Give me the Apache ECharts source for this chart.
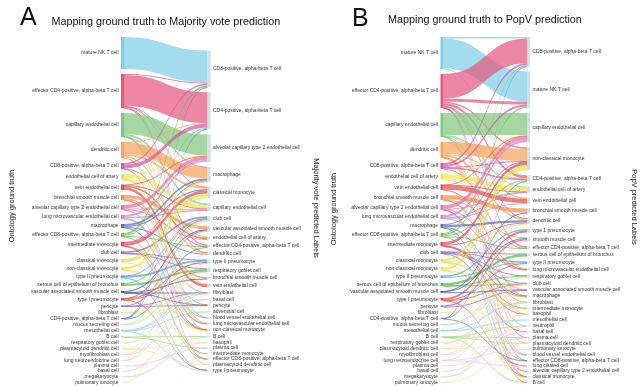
<!DOCTYPE html>
<html><head><meta charset="utf-8">
<script src="https://cdn.jsdelivr.net/npm/echarts@6/dist/echarts.min.js"></script>
<style>html,body{margin:0;padding:0;background:#fff}#c{width:640px;height:386px}</style>
</head><body><div id="c"></div>
<script>
// ---------------- data ----------------
const groundTruthLabels = [
 'mature NK T cell','effector CD4-positive, alpha-beta T cell','capillary endothelial cell','dendritic cell',
 'CD8-positive, alpha-beta T cell','endothelial cell of artery','vein endothelial cell','bronchial smooth muscle cell',
 'alveolar capillary type 2 endothelial cell','lung microvascular endothelial cell','macrophage',
 'effector CD8-positive, alpha-beta T cell','intermediate monocyte','club cell','classical monocyte',
 'non-classical monocyte','type II pneumocyte','serous cell of epithelium of bronchus',
 'vascular associated smooth muscle cell','type I pneumocyte','pericyte','fibroblast',
 'CD4-positive, alpha-beta T cell','mucus secreting cell','mesothelial cell','B cell','respiratory goblet cell',
 'plasmacytoid dendritic cell','myofibroblast cell','lung neuroendocrine cell','plasma cell','basal cell',
 'megakaryocyte','pulmonary ionocyte'
];
const majorityVoteLabels = [
 'CD8-positive, alpha-beta T cell','CD4-positive, alpha-beta T cell','alveolar capillary type 2 endothelial cell',
 'macrophage','classical monocyte','capillary endothelial cell','club cell','vascular associated smooth muscle cell',
 'endothelial cell of artery','effector CD4-positive, alpha-beta T cell','dendritic cell','type II pneumocyte',
 'respiratory goblet cell','bronchial smooth muscle cell','vein endothelial cell','fibroblast','basal cell','pericyte',
 'adventitial cell','blood vessel endothelial cell','lung microvascular endothelial cell','non-classical monocyte',
 'B cell','basophil','plasma cell','intermediate monocyte','effector CD8-positive, alpha-beta T cell',
 'plasmacytoid dendritic cell','type I pneumocyte'
];
const popvLabels = [
 'CD8-positive, alpha-beta T cell','mature NK T cell','capillary endothelial cell','non-classical monocyte',
 'CD4-positive, alpha-beta T cell','endothelial cell of artery','vein endothelial cell','bronchial smooth muscle cell',
 'dendritic cell','type 1 pneumocyte','smooth muscle cell','effector CD4-positive, alpha-beta T cell',
 'serous cell of epithelium of bronchus','type II pneumocyte','lung microvascular endothelial cell',
 'respiratory goblet cell','club cell','vascular associated smooth muscle cell','macrophage','fibroblast',
 'intermediate monocyte','basophil','mesothelial cell','neutrophil','basal cell','plasma cell',
 'plasmacytoid dendritic cell','pulmonary ionocyte','blood vessel endothelial cell',
 'effector CD8-positive, alpha-beta T cell','lung ciliated cell','alveolar capillary type 2 endothelial cell',
 'classical monocyte','B cell'
];
// [ground truth, predicted, amount]
const majorityVoteFlows = [
 ['mature NK T cell','CD8-positive, alpha-beta T cell',32],
 ['effector CD4-positive, alpha-beta T cell','CD4-positive, alpha-beta T cell',31.1],
 ['effector CD4-positive, alpha-beta T cell','CD8-positive, alpha-beta T cell',1],
 ['effector CD4-positive, alpha-beta T cell','effector CD4-positive, alpha-beta T cell',1.3],
 ['effector CD4-positive, alpha-beta T cell','dendritic cell',0.2],
 ['effector CD4-positive, alpha-beta T cell','classical monocyte',0.2],
 ['effector CD4-positive, alpha-beta T cell','macrophage',0.2],
 ['capillary endothelial cell','alveolar capillary type 2 endothelial cell',21],
 ['capillary endothelial cell','capillary endothelial cell',2],
 ['capillary endothelial cell','lung microvascular endothelial cell',0.3],
 ['capillary endothelial cell','blood vessel endothelial cell',0.3],
 ['capillary endothelial cell','endothelial cell of artery',0.2],
 ['capillary endothelial cell','vein endothelial cell',0.2],
 ['dendritic cell','macrophage',11.5],
 ['dendritic cell','classical monocyte',2],
 ['dendritic cell','dendritic cell',1.5],
 ['dendritic cell','non-classical monocyte',0.3],
 ['dendritic cell','CD4-positive, alpha-beta T cell',0.5],
 ['dendritic cell','plasmacytoid dendritic cell',0.2],
 ['CD8-positive, alpha-beta T cell','CD4-positive, alpha-beta T cell',4],
 ['CD8-positive, alpha-beta T cell','CD8-positive, alpha-beta T cell',1.5],
 ['CD8-positive, alpha-beta T cell','effector CD8-positive, alpha-beta T cell',0.2],
 ['CD8-positive, alpha-beta T cell','effector CD4-positive, alpha-beta T cell',0.3],
 ['endothelial cell of artery','capillary endothelial cell',3.2],
 ['endothelial cell of artery','endothelial cell of artery',1],
 ['endothelial cell of artery','vein endothelial cell',0.5],
 ['endothelial cell of artery','alveolar capillary type 2 endothelial cell',0.5],
 ['endothelial cell of artery','lung microvascular endothelial cell',0.2],
 ['endothelial cell of artery','blood vessel endothelial cell',0.1],
 ['vein endothelial cell','vein endothelial cell',2.7],
 ['vein endothelial cell','endothelial cell of artery',1.5],
 ['vein endothelial cell','capillary endothelial cell',0.8],
 ['vein endothelial cell','alveolar capillary type 2 endothelial cell',0.5],
 ['bronchial smooth muscle cell','vascular associated smooth muscle cell',3.2],
 ['bronchial smooth muscle cell','bronchial smooth muscle cell',1.5],
 ['bronchial smooth muscle cell','fibroblast',0.2],
 ['bronchial smooth muscle cell','pericyte',0.1],
 ['alveolar capillary type 2 endothelial cell','alveolar capillary type 2 endothelial cell',3.5],
 ['alveolar capillary type 2 endothelial cell','capillary endothelial cell',0.8],
 ['alveolar capillary type 2 endothelial cell','lung microvascular endothelial cell',0.3],
 ['alveolar capillary type 2 endothelial cell','endothelial cell of artery',0.4],
 ['lung microvascular endothelial cell','alveolar capillary type 2 endothelial cell',2],
 ['lung microvascular endothelial cell','capillary endothelial cell',1.2],
 ['lung microvascular endothelial cell','lung microvascular endothelial cell',0.5],
 ['lung microvascular endothelial cell','blood vessel endothelial cell',0.3],
 ['macrophage','macrophage',2],
 ['macrophage','classical monocyte',1.2],
 ['macrophage','dendritic cell',0.5],
 ['macrophage','non-classical monocyte',0.3],
 ['effector CD8-positive, alpha-beta T cell','CD8-positive, alpha-beta T cell',2],
 ['effector CD8-positive, alpha-beta T cell','CD4-positive, alpha-beta T cell',1],
 ['effector CD8-positive, alpha-beta T cell','effector CD4-positive, alpha-beta T cell',0.8],
 ['effector CD8-positive, alpha-beta T cell','effector CD8-positive, alpha-beta T cell',0.2],
 ['intermediate monocyte','classical monocyte',3.3],
 ['intermediate monocyte','non-classical monocyte',0.5],
 ['intermediate monocyte','macrophage',0.5],
 ['intermediate monocyte','intermediate monocyte',0.2],
 ['club cell','club cell',1.7],
 ['club cell','respiratory goblet cell',0.6],
 ['club cell','type II pneumocyte',0.2],
 ['classical monocyte','classical monocyte',2.8],
 ['classical monocyte','macrophage',0.5],
 ['classical monocyte','non-classical monocyte',0.2],
 ['non-classical monocyte','classical monocyte',2],
 ['non-classical monocyte','non-classical monocyte',0.6],
 ['non-classical monocyte','intermediate monocyte',0.2],
 ['non-classical monocyte','macrophage',0.2],
 ['type II pneumocyte','type II pneumocyte',2],
 ['type II pneumocyte','club cell',0.3],
 ['type II pneumocyte','type I pneumocyte',0.2],
 ['serous cell of epithelium of bronchus','respiratory goblet cell',2],
 ['serous cell of epithelium of bronchus','club cell',1],
 ['vascular associated smooth muscle cell','vascular associated smooth muscle cell',1.3],
 ['vascular associated smooth muscle cell','pericyte',0.4],
 ['vascular associated smooth muscle cell','fibroblast',0.1],
 ['vascular associated smooth muscle cell','bronchial smooth muscle cell',0.2],
 ['type I pneumocyte','type II pneumocyte',1.2],
 ['type I pneumocyte','type I pneumocyte',0.8],
 ['type I pneumocyte','club cell',0.3],
 ['type I pneumocyte','respiratory goblet cell',0.2],
 ['pericyte','pericyte',1],
 ['pericyte','vascular associated smooth muscle cell',0.4],
 ['pericyte','fibroblast',0.1],
 ['fibroblast','fibroblast',0.5],
 ['fibroblast','adventitial cell',0.3],
 ['fibroblast','pericyte',0.2],
 ['CD4-positive, alpha-beta T cell','CD4-positive, alpha-beta T cell',0.5],
 ['CD4-positive, alpha-beta T cell','CD8-positive, alpha-beta T cell',0.3],
 ['CD4-positive, alpha-beta T cell','effector CD4-positive, alpha-beta T cell',0.2],
 ['mucus secreting cell','respiratory goblet cell',0.6],
 ['mucus secreting cell','club cell',0.4],
 ['mesothelial cell','fibroblast',0.4],
 ['mesothelial cell','adventitial cell',0.6],
 ['mesothelial cell','basal cell',0.2],
 ['mesothelial cell','type I pneumocyte',0.3],
 ['B cell','B cell',0.7],
 ['B cell','plasma cell',0.3],
 ['respiratory goblet cell','respiratory goblet cell',0.4],
 ['respiratory goblet cell','club cell',0.3],
 ['plasmacytoid dendritic cell','plasmacytoid dendritic cell',0.5],
 ['plasmacytoid dendritic cell','dendritic cell',0.3],
 ['plasmacytoid dendritic cell','basophil',0.2],
 ['myofibroblast cell','fibroblast',0.3],
 ['myofibroblast cell','vascular associated smooth muscle cell',0.4],
 ['lung neuroendocrine cell','club cell',0.4],
 ['lung neuroendocrine cell','type II pneumocyte',0.3],
 ['plasma cell','plasma cell',0.3],
 ['basal cell','basal cell',0.5],
 ['megakaryocyte','basophil',0.4],
 ['megakaryocyte','B cell',0.3],
 ['pulmonary ionocyte','club cell',0.5]
];
const popvFlows = [
 ['mature NK T cell','mature NK T cell',30],
 ['mature NK T cell','CD8-positive, alpha-beta T cell',1.5],
 ['mature NK T cell','CD4-positive, alpha-beta T cell',0.5],
 ['effector CD4-positive, alpha-beta T cell','CD8-positive, alpha-beta T cell',24.7],
 ['effector CD4-positive, alpha-beta T cell','mature NK T cell',3],
 ['effector CD4-positive, alpha-beta T cell','non-classical monocyte',1.5],
 ['effector CD4-positive, alpha-beta T cell','CD4-positive, alpha-beta T cell',2.5],
 ['effector CD4-positive, alpha-beta T cell','effector CD4-positive, alpha-beta T cell',1.5],
 ['effector CD4-positive, alpha-beta T cell','dendritic cell',0.3],
 ['effector CD4-positive, alpha-beta T cell','effector CD8-positive, alpha-beta T cell',0.2],
 ['effector CD4-positive, alpha-beta T cell','classical monocyte',0.1],
 ['effector CD4-positive, alpha-beta T cell','plasma cell',0.1],
 ['effector CD4-positive, alpha-beta T cell','B cell',0.1],
 ['capillary endothelial cell','capillary endothelial cell',22],
 ['capillary endothelial cell','lung microvascular endothelial cell',0.4],
 ['capillary endothelial cell','blood vessel endothelial cell',0.4],
 ['capillary endothelial cell','endothelial cell of artery',0.8],
 ['capillary endothelial cell','vein endothelial cell',0.2],
 ['capillary endothelial cell','alveolar capillary type 2 endothelial cell',0.2],
 ['dendritic cell','non-classical monocyte',12.3],
 ['dendritic cell','dendritic cell',2],
 ['dendritic cell','CD4-positive, alpha-beta T cell',0.5],
 ['dendritic cell','macrophage',0.3],
 ['dendritic cell','plasmacytoid dendritic cell',0.3],
 ['dendritic cell','basophil',0.3],
 ['dendritic cell','classical monocyte',0.2],
 ['dendritic cell','neutrophil',0.1],
 ['CD8-positive, alpha-beta T cell','CD8-positive, alpha-beta T cell',2],
 ['CD8-positive, alpha-beta T cell','mature NK T cell',2],
 ['CD8-positive, alpha-beta T cell','CD4-positive, alpha-beta T cell',1.5],
 ['CD8-positive, alpha-beta T cell','effector CD4-positive, alpha-beta T cell',0.3],
 ['CD8-positive, alpha-beta T cell','non-classical monocyte',0.2],
 ['endothelial cell of artery','endothelial cell of artery',4],
 ['endothelial cell of artery','capillary endothelial cell',0.5],
 ['endothelial cell of artery','vein endothelial cell',0.7],
 ['endothelial cell of artery','lung microvascular endothelial cell',0.3],
 ['vein endothelial cell','vein endothelial cell',4.5],
 ['vein endothelial cell','endothelial cell of artery',0.5],
 ['vein endothelial cell','capillary endothelial cell',0.3],
 ['vein endothelial cell','lung microvascular endothelial cell',0.2],
 ['bronchial smooth muscle cell','bronchial smooth muscle cell',4.2],
 ['bronchial smooth muscle cell','smooth muscle cell',0.6],
 ['bronchial smooth muscle cell','vascular associated smooth muscle cell',0.1],
 ['bronchial smooth muscle cell','fibroblast',0.1],
 ['alveolar capillary type 2 endothelial cell','capillary endothelial cell',4],
 ['alveolar capillary type 2 endothelial cell','lung microvascular endothelial cell',0.3],
 ['alveolar capillary type 2 endothelial cell','endothelial cell of artery',0.4],
 ['alveolar capillary type 2 endothelial cell','alveolar capillary type 2 endothelial cell',0.1],
 ['alveolar capillary type 2 endothelial cell','blood vessel endothelial cell',0.2],
 ['lung microvascular endothelial cell','capillary endothelial cell',2.5],
 ['lung microvascular endothelial cell','lung microvascular endothelial cell',0.7],
 ['lung microvascular endothelial cell','endothelial cell of artery',0.4],
 ['lung microvascular endothelial cell','vein endothelial cell',0.4],
 ['macrophage','macrophage',0.6],
 ['macrophage','dendritic cell',2.4],
 ['macrophage','non-classical monocyte',0.8],
 ['macrophage','classical monocyte',0.2],
 ['effector CD8-positive, alpha-beta T cell','mature NK T cell',1.5],
 ['effector CD8-positive, alpha-beta T cell','CD8-positive, alpha-beta T cell',1],
 ['effector CD8-positive, alpha-beta T cell','CD4-positive, alpha-beta T cell',0.8],
 ['effector CD8-positive, alpha-beta T cell','effector CD4-positive, alpha-beta T cell',0.5],
 ['effector CD8-positive, alpha-beta T cell','effector CD8-positive, alpha-beta T cell',0.2],
 ['intermediate monocyte','non-classical monocyte',3],
 ['intermediate monocyte','intermediate monocyte',0.4],
 ['intermediate monocyte','macrophage',0.2],
 ['intermediate monocyte','dendritic cell',0.8],
 ['intermediate monocyte','basophil',0.1],
 ['club cell','club cell',0.9],
 ['club cell','respiratory goblet cell',0.5],
 ['club cell','serous cell of epithelium of bronchus',0.3],
 ['club cell','type II pneumocyte',0.7],
 ['club cell','basal cell',0.1],
 ['classical monocyte','non-classical monocyte',2.6],
 ['classical monocyte','intermediate monocyte',0.3],
 ['classical monocyte','macrophage',0.2],
 ['classical monocyte','dendritic cell',0.2],
 ['classical monocyte','classical monocyte',0.2],
 ['non-classical monocyte','non-classical monocyte',2.6],
 ['non-classical monocyte','intermediate monocyte',0.2],
 ['non-classical monocyte','classical monocyte',0.2],
 ['type II pneumocyte','type 1 pneumocyte',1.6],
 ['type II pneumocyte','type II pneumocyte',0.9],
 ['serous cell of epithelium of bronchus','serous cell of epithelium of bronchus',2.5],
 ['serous cell of epithelium of bronchus','respiratory goblet cell',0.4],
 ['serous cell of epithelium of bronchus','club cell',0.1],
 ['vascular associated smooth muscle cell','vascular associated smooth muscle cell',0.6],
 ['vascular associated smooth muscle cell','smooth muscle cell',1.1],
 ['vascular associated smooth muscle cell','bronchial smooth muscle cell',0.3],
 ['type I pneumocyte','type 1 pneumocyte',1.9],
 ['type I pneumocyte','type II pneumocyte',0.4],
 ['type I pneumocyte','club cell',0.1],
 ['type I pneumocyte','lung ciliated cell',0.1],
 ['pericyte','smooth muscle cell',1.3],
 ['pericyte','vascular associated smooth muscle cell',0.2],
 ['fibroblast','fibroblast',0.6],
 ['fibroblast','smooth muscle cell',0.4],
 ['CD4-positive, alpha-beta T cell','CD4-positive, alpha-beta T cell',0.5],
 ['CD4-positive, alpha-beta T cell','CD8-positive, alpha-beta T cell',0.3],
 ['CD4-positive, alpha-beta T cell','effector CD8-positive, alpha-beta T cell',0.2],
 ['mucus secreting cell','respiratory goblet cell',0.9],
 ['mucus secreting cell','club cell',0.1],
 ['mesothelial cell','mesothelial cell',1.2],
 ['mesothelial cell','fibroblast',0.3],
 ['B cell','B cell',0.3],
 ['B cell','plasma cell',0.3],
 ['B cell','plasmacytoid dendritic cell',0.2],
 ['B cell','neutrophil',0.2],
 ['respiratory goblet cell','respiratory goblet cell',0.6],
 ['respiratory goblet cell','club cell',0.1],
 ['plasmacytoid dendritic cell','plasmacytoid dendritic cell',0.6],
 ['plasmacytoid dendritic cell','dendritic cell',0.3],
 ['plasmacytoid dendritic cell','basophil',0.1],
 ['myofibroblast cell','fibroblast',0.2],
 ['myofibroblast cell','smooth muscle cell',0.5],
 ['lung neuroendocrine cell','pulmonary ionocyte',0.3],
 ['lung neuroendocrine cell','club cell',0.2],
 ['lung neuroendocrine cell','lung ciliated cell',0.2],
 ['plasma cell','plasma cell',0.3],
 ['basal cell','basal cell',0.5],
 ['megakaryocyte','neutrophil',0.4],
 ['megakaryocyte','basophil',0.3],
 ['pulmonary ionocyte','pulmonary ionocyte',0.3],
 ['pulmonary ionocyte','club cell',0.2]
];
// blank spacer that centres the shorter predicted column (Majority vote panel)
const majorityColumnSpacer = 8.5;

// ---------------- styles ----------------
const groundTruthColors = ['#7fd0e6','#e5587f','#82c77e','#f5a35c','#d158a5','#f3e44e','#e84e55','#f28f52',
 '#e370ab','#cf86bf','#5a6db6','#6dbe57','#e24d60','#8d6ab4','#dde05a','#f2e040','#4fa5d9','#5cb85c','#3c5a9c',
 '#e14b4b','#a263a9','#eee49a','#5a75c2','#b8dc9e','#8ad2ee','#a6d774','#c9e6c0','#f1e8a8','#f6cfae','#f1c9d8',
 '#dacbe6','#f2c4d0','#d6d9e9','#efe7b4'];
const predColor = '#d3dde6';
const FONT = '"Liberation Sans", Arial, sans-serif';

function buildNodes(predLabels, prefix, spacer) {
  const nodes = groundTruthLabels.map((n, i) => ({
    name: 'gt|' + n, itemStyle: {color: groundTruthColors[i]}, label: {position: 'left'}
  }));
  if (spacer) nodes.push({name: prefix + '|', value: spacer, depth: 1,
    itemStyle: {color: 'rgba(0,0,0,0)'}, label: {show: false}});
  predLabels.forEach(n => nodes.push({name: prefix + '|' + n, depth: 1,
    itemStyle: {color: predColor}, label: {position: 'right'}}));
  return nodes;
}
function buildLinks(flows, prefix) {
  return flows.map(f => ({source: 'gt|' + f[0], target: prefix + '|' + f[1], value: f[2]}));
}
function sankey(left, nodes, links) {
  return {
    type: 'sankey', left: left, top: 37, width: 89.5, height: 345.5,
    nodeWidth: 3, nodeGap: 5, layoutIterations: 0, draggable: false, silent: true,
    emphasis: {disabled: true},
    label: {show: true, fontSize: 5, color: '#333', fontFamily: FONT, distance: 2.5,
      formatter: p => p.name.slice(p.name.indexOf('|') + 1)},
    lineStyle: {color: 'source', opacity: 0.72, curveness: 0.5},
    itemStyle: {borderWidth: 0},
    data: nodes, links: links
  };
}
const txt = (text, x, y, size, rot, align) => ({
  type: 'text', x: x, y: y, rotation: rot || 0, silent: true,
  style: {text: text, fontSize: size, fontFamily: FONT, fill: rot ? '#222' : '#111',
    align: align || 'left', verticalAlign: 'middle'}
});

const chart = echarts.init(document.getElementById('c'), null, {renderer: 'canvas'});
chart.setOption({
  animation: false,
  backgroundColor: '#fff',
  series: [
    sankey(121, buildNodes(majorityVoteLabels, 'mv', majorityColumnSpacer), buildLinks(majorityVoteFlows, 'mv')),
    sankey(440.5, buildNodes(popvLabels, 'pv', 0), buildLinks(popvFlows, 'pv'))
  ],
  graphic: [
    txt('A', 20, 18.5, 25),
    txt('Mapping ground truth to Majority vote prediction', 51.5, 22.5, 10.8),
    txt('B', 352, 18.7, 25),
    txt('Mapping ground truth to PopV prediction', 388, 20, 10.8),
    txt('Ontology ground truth', 12, 206, 7.5, Math.PI / 2, 'center'),
    txt('Majority vote predicted Labels', 316, 208, 7.5, -Math.PI / 2, 'center'),
    txt('Ontology ground truth', 333.5, 209, 7.5, Math.PI / 2, 'center'),
    txt('PopV predicted Labels', 634, 207, 7.5, -Math.PI / 2, 'center')
  ]
});
</script></body></html>
